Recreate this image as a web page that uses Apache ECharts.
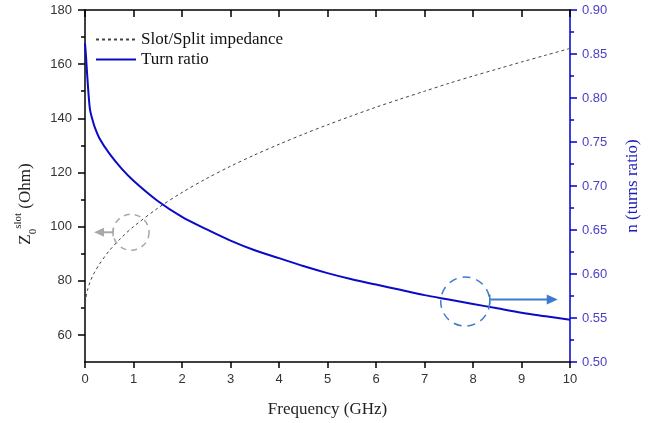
<!DOCTYPE html>
<html>
<head>
<meta charset="utf-8">
<script src="https://cdn.jsdelivr.net/npm/echarts@6/dist/echarts.min.js"></script>
<style>
  html, body { margin: 0; padding: 0; background: #fff; }
  #chart { width: 651px; height: 423px; }
</style>
</head>
<body>
<div id="chart"></div>
<script>
// Frequency samples (GHz)
const freq = [0, 0.02, 0.05, 0.1, 0.15, 0.2, 0.3, 0.5, 0.75, 1, 1.5, 2, 2.5, 3, 3.5, 4, 4.5, 5, 5.5, 6, 6.5, 7, 7.5, 8, 8.5, 9, 9.5, 10];
// Slot/split line impedance (Ohm), left axis
const impedance = [69.6, 73.9, 76.4, 79.4, 81.5, 83.2, 86.2, 91.1, 95.9, 100.0, 106.8, 112.6, 117.7, 122.3, 126.5, 130.4, 134.1, 137.6, 140.9, 144.1, 147.1, 150.0, 152.9, 155.6, 158.2, 160.8, 163.3, 165.8];
// Turns ratio n, right axis
const turnRatio = [0.862, 0.848, 0.822, 0.788, 0.776, 0.767, 0.754, 0.737, 0.720, 0.706, 0.683, 0.665, 0.651, 0.638, 0.627, 0.618, 0.609, 0.601, 0.594, 0.588, 0.582, 0.576, 0.571, 0.566, 0.561, 0.556, 0.552, 0.548];

const leftMajor = [60, 80, 100, 120, 140, 160, 180];
const leftMinor = [70, 90, 110, 130, 150, 170];

const chart = echarts.init(document.getElementById('chart'), null, { renderer: 'canvas' });

const numFont = { fontFamily: 'Liberation Sans, Arial, sans-serif', fontSize: 13, color: '#333' };
const serif = 'Liberation Serif, Times New Roman, serif';

const option = {
  animation: false,
  backgroundColor: '#fff',
  grid: { left: 85, right: 81, top: 10, bottom: 60, containLabel: false },
  legend: {
    orient: 'vertical',
    left: 90,
    top: 26,
    itemWidth: 40,
    itemHeight: 12,
    itemGap: 3,
    itemStyle: { opacity: 0 },
    textStyle: { fontFamily: serif, fontSize: 17, color: '#111' },
    data: ['Slot/Split impedance', 'Turn ratio']
  },
  xAxis: [
    {
      type: 'value', position: 'bottom', min: 0, max: 10, interval: 1,
      name: 'Frequency (GHz)', nameLocation: 'middle', nameGap: 39,
      nameTextStyle: { fontFamily: serif, fontSize: 17, color: '#222' },
      axisLine: { show: true, onZero: false, lineStyle: { color: '#000', width: 1.5 } },
      axisTick: { show: true, length: 6, lineStyle: { color: '#000', width: 1.5 } },
      axisLabel: Object.assign({ margin: 11 }, numFont),
      splitLine: { show: false }
    },
    {
      type: 'value', position: 'top', min: 0, max: 10, interval: 1,
      axisLine: { show: true, onZero: false, lineStyle: { color: '#000', width: 1.5 } },
      axisTick: { show: true, inside: true, length: 7, lineStyle: { color: '#000', width: 1.5 } },
      axisLabel: { show: false },
      splitLine: { show: false }
    }
  ],
  yAxis: [
    {
      type: 'value', position: 'left', min: 50, max: 180,
      name: '{z|Z}{sub|0}{sup|slot}{t| (Ohm)}',
      nameLocation: 'middle', nameGap: 46,
      nameTextStyle: {
        fontFamily: serif, color: '#222',
        padding: [0, 36, 0, 0],
        rich: {
          z: { fontFamily: serif, fontSize: 17, lineHeight: 26, verticalAlign: 'middle', color: '#222' },
          sub: { fontFamily: serif, fontSize: 11, verticalAlign: 'bottom', color: '#222' },
          sup: { fontFamily: serif, fontSize: 11, verticalAlign: 'top', color: '#222' },
          t: { fontFamily: serif, fontSize: 17, verticalAlign: 'middle', color: '#222' }
        }
      },
      axisLine: { show: true, onZero: false, lineStyle: { color: '#000', width: 1.5 } },
      axisTick: { show: true, length: 7, customValues: leftMajor, lineStyle: { color: '#000', width: 1.5 } },
      axisLabel: Object.assign({ margin: 13, customValues: leftMajor }, numFont),
      splitLine: { show: false }
    },
    {
      type: 'value', position: 'left', min: 50, max: 180,
      axisLine: { show: false },
      axisTick: { show: true, length: 4, customValues: leftMinor, lineStyle: { color: '#000', width: 1.5 } },
      axisLabel: { show: false },
      splitLine: { show: false }
    },
    {
      type: 'value', position: 'right', min: 0.5, max: 0.9, interval: 0.05,
      name: 'n (turns ratio)', nameLocation: 'middle', nameGap: 54, nameRotate: 90,
      nameTextStyle: { fontFamily: serif, fontSize: 17, color: '#1a1ab8' },
      axisLine: { show: true, onZero: false, lineStyle: { color: '#0000cc', width: 1.5 } },
      axisTick: { show: true, length: 7, lineStyle: { color: '#0000cc', width: 1.5 } },
      minorTick: { show: true, splitNumber: 2, length: 4, lineStyle: { color: '#0000cc', width: 1.5 } },
      axisLabel: {
        margin: 12, fontFamily: 'Liberation Sans, Arial, sans-serif', fontSize: 13, color: '#4b3fc4',
        formatter: v => v.toFixed(2)
      },
      splitLine: { show: false }
    }
  ],
  series: [
    {
      name: 'Slot/Split impedance', type: 'line', xAxisIndex: 0, yAxisIndex: 0,
      data: freq.map((f, i) => [f, impedance[i]]),
      showSymbol: false, symbol: 'none', smooth: 0.3,
      lineStyle: { color: '#444', width: 1, type: [3, 3] },
      itemStyle: { color: '#444' }
    },
    {
      name: 'Turn ratio', type: 'line', xAxisIndex: 0, yAxisIndex: 2,
      data: freq.map((f, i) => [f, turnRatio[i]]),
      showSymbol: false, symbol: 'none', smooth: 0.3,
      lineStyle: { color: '#0a0ac8', width: 2 },
      itemStyle: { color: '#0a0ac8' }
    }
  ]
};

chart.setOption(option);

// Callout markers: dashed circles with arrows pointing to the axis each curve uses
function callouts() {
  const g = chart.convertToPixel({ seriesIndex: 0 }, [0.95, 97.9]);
  const b = chart.convertToPixel({ seriesIndex: 1 }, [7.84, 0.5687]);
  const grey = '#a8a8a8';
  const blue = '#3f7bcc';
  const gr = 18, br = 24.5;
  const gxL = g[0] - gr, gTip = gxL - 19;
  const bxR = b[0] + br, bTip = bxR + 68;
  const by = b[1] - 2;
  chart.setOption({
    graphic: [
      { type: 'circle', shape: { cx: g[0], cy: g[1], r: gr }, style: { fill: null, stroke: grey, lineWidth: 1.5, lineDash: [6, 5] }, z: 10 },
      { type: 'line', shape: { x1: gxL, y1: g[1], x2: gTip + 8, y2: g[1] }, style: { stroke: grey, lineWidth: 2 }, z: 10 },
      { type: 'line', shape: { x1: gxL, y1: g[1] - 4, x2: gxL, y2: g[1] + 4 }, style: { stroke: grey, lineWidth: 1.5 }, z: 10 },
      { type: 'polygon', shape: { points: [[gTip, g[1]], [gTip + 10, g[1] - 4.5], [gTip + 10, g[1] + 4.5]] }, style: { fill: grey }, z: 10 },

      { type: 'circle', shape: { cx: b[0], cy: b[1], r: br }, style: { fill: null, stroke: blue, lineWidth: 1.5, lineDash: [8, 6] }, z: 10 },
      { type: 'line', shape: { x1: bxR, y1: by, x2: bTip - 8, y2: by }, style: { stroke: blue, lineWidth: 2 }, z: 10 },
      { type: 'line', shape: { x1: bxR, y1: by - 5, x2: bxR, y2: by + 5 }, style: { stroke: blue, lineWidth: 1.5 }, z: 10 },
      { type: 'polygon', shape: { points: [[bTip, by], [bTip - 11, by - 5], [bTip - 11, by + 5]] }, style: { fill: blue }, z: 10 }
    ]
  });
}
callouts();
</script>
</body>
</html>
